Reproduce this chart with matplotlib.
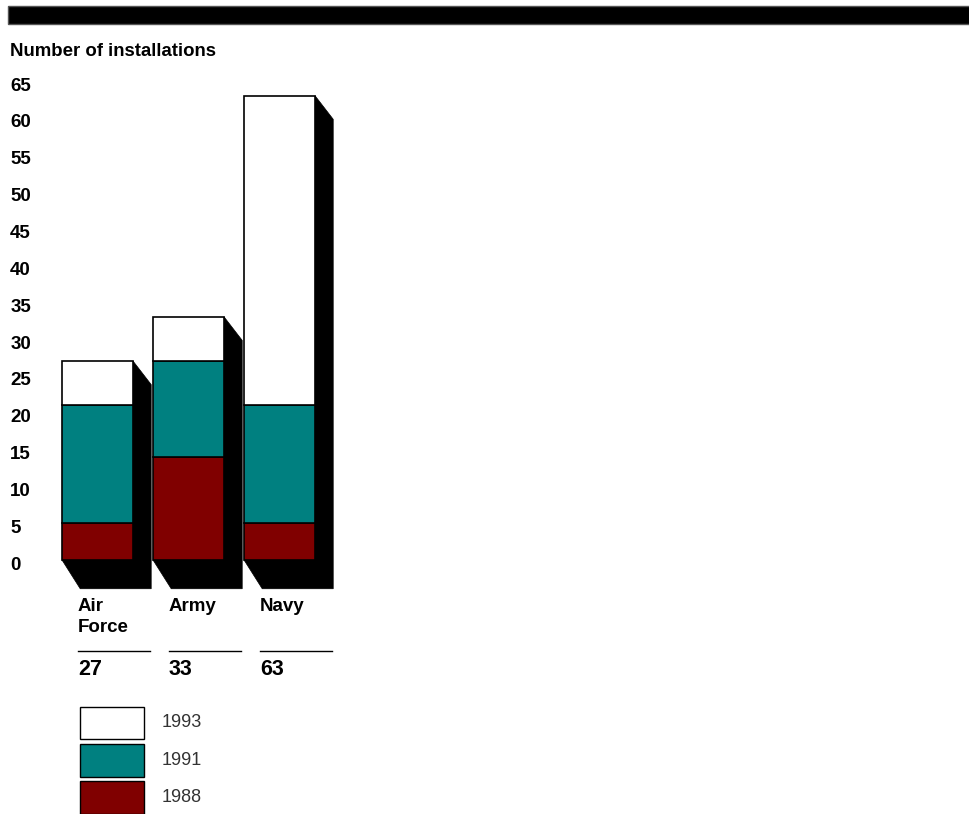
import matplotlib.pyplot as plt
from matplotlib.patches import Polygon, Rectangle

plt.rcParams['font.family'] = ['Liberation Sans', 'DejaVu Sans']

services = ["Air\nForce", "Army", "Navy"]
totals = [27, 33, 63]
years = ["1988", "1991", "1993"]
vals_1988 = [5, 14, 5]
vals_1991 = [16, 13, 16]
vals_1993 = [6, 6, 42]
colors = ["#800000", "#008080", "#ffffff"]
yticks = list(range(0, 70, 5))

fig = plt.figure(figsize=(9.69, 8.14), dpi=100)
ax = fig.add_axes([0.0067, 0.2713, 0.3569, 0.6383])
ax.set_xlim(-1.0, 2.8)
ax.set_ylim(-4.5, 66)
ax.axis("off")

# black band at the top
fig.add_artist(Rectangle((8 / 969, 1 - 24 / 814), 1, 18 / 814, transform=fig.transFigure,
                         facecolor="black", edgecolor="#555555", lw=1))

fig.text(10 / 969, 1 - 51 / 814, "Number of installations", fontsize=13.4,
         fontweight="bold", va="center", ha="left")

for t in yticks:
    ax.text(-0.96, t - 0.7, str(t), fontsize=13.5, fontweight="bold", va="center", ha="left")

w = 0.78
dx, depth, dtop = 0.20, 3.9, 3.2
series = [vals_1988, vals_1991, vals_1993]
for i, name in enumerate(services):
    x0 = i - w / 2
    x1 = i + w / 2
    top = sum(s[i] for s in series)
    shadow = Polygon([(x0, 0), (x0 + dx, -depth), (x1 + dx, -depth),
                      (x1 + dx, top - dtop), (x1, top), (x1, 0)],
                     closed=True, facecolor="black", edgecolor="black", lw=0.5)
    ax.add_patch(shadow)

bottom = [0, 0, 0]
for vals, c in zip(series, colors):
    ax.bar(range(3), vals, width=w, bottom=bottom, color=c, edgecolor="black", lw=1.2, zorder=3)
    bottom = [b + v for b, v in zip(bottom, vals)]

for i, name in enumerate(services):
    xl = i - w / 2 + 0.175
    ax.text(xl, -5.2, name, fontsize=13.5, fontweight="bold", va="top", ha="left",
            linespacing=1.3, clip_on=False)
    ax.plot([xl, xl + 0.79], [-12.3, -12.3], color="black", lw=1, clip_on=False)
    ax.text(xl, -14.8, str(totals[i]), fontsize=15.5, fontweight="bold", va="center",
            ha="left", clip_on=False)

# legend
box_x0 = (80 - 97.5) / 91
box_w = 64 / 91
legend_rows = [("1993", "#ffffff", 707, 739), ("1991", "#008080", 744, 777),
               ("1988", "#800000", 781, 814)]
for label, c, ytop, ybot in legend_rows:
    y0 = (560 - ybot) / 7.37
    h = (ybot - ytop) / 7.37
    ax.add_patch(Rectangle((box_x0, y0), box_w, h, facecolor=c, edgecolor="black",
                           lw=1, clip_on=False))
    ax.text((162 - 97.5) / 91, y0 + h / 2, label, fontsize=13, color="#333333",
            va="center", ha="left", clip_on=False)

fig.savefig("out.png", dpi=100)
